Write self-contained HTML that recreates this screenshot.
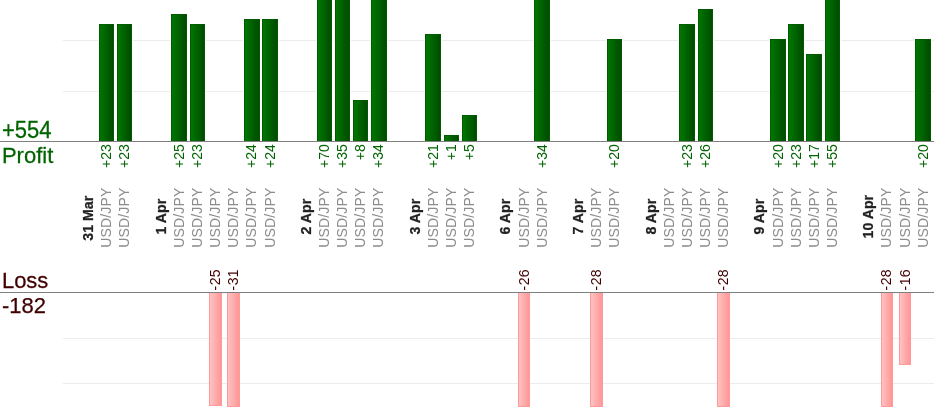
<!DOCTYPE html><html><head><meta charset="utf-8"><title>chart</title><style>html,body{margin:0;padding:0;background:#fff;overflow:hidden}svg{display:block;filter:blur(0.35px)}text{font-family:"Liberation Sans",sans-serif}</style></head><body>
<svg width="934" height="420" viewBox="0 0 934 420">
<defs><linearGradient id="g" x1="0" x2="1" y1="0" y2="0"><stop offset="0" stop-color="#007800"/><stop offset="1" stop-color="#004a00"/></linearGradient><linearGradient id="r" x1="0" x2="1" y1="0" y2="0"><stop offset="0" stop-color="#ffc4c4"/><stop offset="1" stop-color="#ff9494"/></linearGradient></defs>
<rect x="-5" y="-5" width="944" height="430" fill="#fff"/>
<rect x="63" y="40" width="880" height="1" fill="#ececec"/>
<rect x="63" y="91" width="880" height="1" fill="#ececec"/>
<rect x="63" y="338" width="880" height="1" fill="#ececec"/>
<rect x="63" y="383" width="880" height="1" fill="#ececec"/>
<rect x="98" y="23" width="17" height="118" fill="#fff"/>
<rect x="99.5" y="24.5" width="14" height="117" fill="url(#g)" stroke="#005a00" stroke-width="1"/>
<rect x="116" y="23" width="17" height="118" fill="#fff"/>
<rect x="117.5" y="24.5" width="14" height="117" fill="url(#g)" stroke="#005a00" stroke-width="1"/>
<rect x="170" y="13" width="18" height="128" fill="#fff"/>
<rect x="171.5" y="14.5" width="15" height="127" fill="url(#g)" stroke="#005a00" stroke-width="1"/>
<rect x="189" y="23" width="17" height="118" fill="#fff"/>
<rect x="190.5" y="24.5" width="14" height="117" fill="url(#g)" stroke="#005a00" stroke-width="1"/>
<rect x="209.5" y="292.5" width="12" height="113" fill="url(#r)" stroke="#ff9a9a" stroke-width="1"/>
<rect x="227.5" y="292.5" width="12" height="114" fill="url(#r)" stroke="#ff9a9a" stroke-width="1"/>
<rect x="243" y="18" width="18" height="123" fill="#fff"/>
<rect x="244.5" y="19.5" width="15" height="122" fill="url(#g)" stroke="#005a00" stroke-width="1"/>
<rect x="261" y="18" width="18" height="123" fill="#fff"/>
<rect x="262.5" y="19.5" width="15" height="122" fill="url(#g)" stroke="#005a00" stroke-width="1"/>
<rect x="316" y="-214" width="17" height="355" fill="#fff"/>
<rect x="317.5" y="-212.5" width="14" height="354" fill="url(#g)" stroke="#005a00" stroke-width="1"/>
<rect x="334" y="-38" width="17" height="179" fill="#fff"/>
<rect x="335.5" y="-36.5" width="14" height="178" fill="url(#g)" stroke="#005a00" stroke-width="1"/>
<rect x="352" y="99" width="17" height="42" fill="#fff"/>
<rect x="353.5" y="100.5" width="14" height="41" fill="url(#g)" stroke="#005a00" stroke-width="1"/>
<rect x="370" y="-33" width="18" height="174" fill="#fff"/>
<rect x="371.5" y="-31.5" width="15" height="173" fill="url(#g)" stroke="#005a00" stroke-width="1"/>
<rect x="424" y="33" width="18" height="108" fill="#fff"/>
<rect x="425.5" y="34.5" width="15" height="107" fill="url(#g)" stroke="#005a00" stroke-width="1"/>
<rect x="443" y="134" width="17" height="7" fill="#fff"/>
<rect x="444.5" y="135.5" width="14" height="6" fill="url(#g)" stroke="#005a00" stroke-width="1"/>
<rect x="461" y="114" width="17" height="27" fill="#fff"/>
<rect x="462.5" y="115.5" width="14" height="26" fill="url(#g)" stroke="#005a00" stroke-width="1"/>
<rect x="518.5" y="292.5" width="11" height="114" fill="url(#r)" stroke="#ff9a9a" stroke-width="1"/>
<rect x="533" y="-33" width="18" height="174" fill="#fff"/>
<rect x="534.5" y="-31.5" width="15" height="173" fill="url(#g)" stroke="#005a00" stroke-width="1"/>
<rect x="590.5" y="292.5" width="12" height="114" fill="url(#r)" stroke="#ff9a9a" stroke-width="1"/>
<rect x="606" y="38" width="17" height="103" fill="#fff"/>
<rect x="607.5" y="39.5" width="14" height="102" fill="url(#g)" stroke="#005a00" stroke-width="1"/>
<rect x="678" y="23" width="18" height="118" fill="#fff"/>
<rect x="679.5" y="24.5" width="15" height="117" fill="url(#g)" stroke="#005a00" stroke-width="1"/>
<rect x="697" y="8" width="17" height="133" fill="#fff"/>
<rect x="698.5" y="9.5" width="14" height="132" fill="url(#g)" stroke="#005a00" stroke-width="1"/>
<rect x="717.5" y="292.5" width="12" height="114" fill="url(#r)" stroke="#ff9a9a" stroke-width="1"/>
<rect x="769" y="38" width="18" height="103" fill="#fff"/>
<rect x="770.5" y="39.5" width="15" height="102" fill="url(#g)" stroke="#005a00" stroke-width="1"/>
<rect x="787" y="23" width="18" height="118" fill="#fff"/>
<rect x="788.5" y="24.5" width="15" height="117" fill="url(#g)" stroke="#005a00" stroke-width="1"/>
<rect x="805" y="53" width="18" height="88" fill="#fff"/>
<rect x="806.5" y="54.5" width="15" height="87" fill="url(#g)" stroke="#005a00" stroke-width="1"/>
<rect x="824" y="-139" width="17" height="280" fill="#fff"/>
<rect x="825.5" y="-137.5" width="14" height="279" fill="url(#g)" stroke="#005a00" stroke-width="1"/>
<rect x="881.5" y="292.5" width="11" height="114" fill="url(#r)" stroke="#ff9a9a" stroke-width="1"/>
<rect x="899.5" y="292.5" width="11" height="72" fill="url(#r)" stroke="#ff9a9a" stroke-width="1"/>
<rect x="914" y="38" width="18" height="103" fill="#fff"/>
<rect x="915.5" y="39.5" width="15" height="102" fill="url(#g)" stroke="#005a00" stroke-width="1"/>
<rect x="-5" y="141" width="944" height="1" fill="#808080"/>
<rect x="-5" y="292" width="944" height="1" fill="#808080"/>
<text transform="translate(1.9,138) scale(1,1.05)" font-size="22" fill="#006400" stroke="#006400" stroke-width="0.25">+554</text>
<text transform="translate(1.9,163) scale(1,1.03)" font-size="22" fill="#006400" stroke="#006400" stroke-width="0.25">Profit</text>
<text transform="translate(1.9,287.7) scale(1,1.03)" font-size="22" fill="#400000" stroke="#400000" stroke-width="0.25">Loss</text>
<text transform="translate(1.9,313.4) scale(1,1.0)" font-size="22" fill="#400000" stroke="#400000" stroke-width="0.25">-182</text>
<text stroke="#222" stroke-width="0.25" transform="translate(93.30,218.20) rotate(-90)" font-size="14.2" fill="#222" text-anchor="middle" font-weight="bold">31 Mar</text>
<text letter-spacing="0.15" transform="translate(111.00,217.70) rotate(-90)" font-size="14" fill="#8c8c8c" text-anchor="middle">USD/JPY</text>
<text transform="translate(111.00,144.20) rotate(-90)" font-size="14" fill="#006400" text-anchor="end">+23</text>
<text letter-spacing="0.15" transform="translate(129.00,217.70) rotate(-90)" font-size="14" fill="#8c8c8c" text-anchor="middle">USD/JPY</text>
<text transform="translate(129.00,144.20) rotate(-90)" font-size="14" fill="#006400" text-anchor="end">+23</text>
<text stroke="#222" stroke-width="0.25" transform="translate(166.30,216.70) rotate(-90)" font-size="14.2" fill="#222" text-anchor="middle" font-weight="bold">1 Apr</text>
<text letter-spacing="0.15" transform="translate(184.00,217.70) rotate(-90)" font-size="14" fill="#8c8c8c" text-anchor="middle">USD/JPY</text>
<text transform="translate(184.00,144.20) rotate(-90)" font-size="14" fill="#006400" text-anchor="end">+25</text>
<text letter-spacing="0.15" transform="translate(202.00,217.70) rotate(-90)" font-size="14" fill="#8c8c8c" text-anchor="middle">USD/JPY</text>
<text transform="translate(202.00,144.20) rotate(-90)" font-size="14" fill="#006400" text-anchor="end">+23</text>
<text letter-spacing="0.15" transform="translate(220.00,217.70) rotate(-90)" font-size="14" fill="#8c8c8c" text-anchor="middle">USD/JPY</text>
<text letter-spacing="0.4" transform="translate(220.20,290.40) rotate(-90)" font-size="14" fill="#400000" text-anchor="start">-25</text>
<text letter-spacing="0.15" transform="translate(238.00,217.70) rotate(-90)" font-size="14" fill="#8c8c8c" text-anchor="middle">USD/JPY</text>
<text letter-spacing="0.4" transform="translate(238.20,290.40) rotate(-90)" font-size="14" fill="#400000" text-anchor="start">-31</text>
<text letter-spacing="0.15" transform="translate(256.00,217.70) rotate(-90)" font-size="14" fill="#8c8c8c" text-anchor="middle">USD/JPY</text>
<text transform="translate(256.00,144.20) rotate(-90)" font-size="14" fill="#006400" text-anchor="end">+24</text>
<text letter-spacing="0.15" transform="translate(275.00,217.70) rotate(-90)" font-size="14" fill="#8c8c8c" text-anchor="middle">USD/JPY</text>
<text transform="translate(275.00,144.20) rotate(-90)" font-size="14" fill="#006400" text-anchor="end">+24</text>
<text stroke="#222" stroke-width="0.25" transform="translate(311.30,216.70) rotate(-90)" font-size="14.2" fill="#222" text-anchor="middle" font-weight="bold">2 Apr</text>
<text letter-spacing="0.15" transform="translate(329.00,217.70) rotate(-90)" font-size="14" fill="#8c8c8c" text-anchor="middle">USD/JPY</text>
<text transform="translate(329.00,144.20) rotate(-90)" font-size="14" fill="#006400" text-anchor="end">+70</text>
<text letter-spacing="0.15" transform="translate(347.00,217.70) rotate(-90)" font-size="14" fill="#8c8c8c" text-anchor="middle">USD/JPY</text>
<text transform="translate(347.00,144.20) rotate(-90)" font-size="14" fill="#006400" text-anchor="end">+35</text>
<text letter-spacing="0.15" transform="translate(365.00,217.70) rotate(-90)" font-size="14" fill="#8c8c8c" text-anchor="middle">USD/JPY</text>
<text transform="translate(365.00,144.20) rotate(-90)" font-size="14" fill="#006400" text-anchor="end">+8</text>
<text letter-spacing="0.15" transform="translate(383.00,217.70) rotate(-90)" font-size="14" fill="#8c8c8c" text-anchor="middle">USD/JPY</text>
<text transform="translate(383.00,144.20) rotate(-90)" font-size="14" fill="#006400" text-anchor="end">+34</text>
<text stroke="#222" stroke-width="0.25" transform="translate(420.30,216.70) rotate(-90)" font-size="14.2" fill="#222" text-anchor="middle" font-weight="bold">3 Apr</text>
<text letter-spacing="0.15" transform="translate(438.00,217.70) rotate(-90)" font-size="14" fill="#8c8c8c" text-anchor="middle">USD/JPY</text>
<text transform="translate(438.00,144.20) rotate(-90)" font-size="14" fill="#006400" text-anchor="end">+21</text>
<text letter-spacing="0.15" transform="translate(456.00,217.70) rotate(-90)" font-size="14" fill="#8c8c8c" text-anchor="middle">USD/JPY</text>
<text transform="translate(456.00,144.20) rotate(-90)" font-size="14" fill="#006400" text-anchor="end">+1</text>
<text letter-spacing="0.15" transform="translate(474.00,217.70) rotate(-90)" font-size="14" fill="#8c8c8c" text-anchor="middle">USD/JPY</text>
<text transform="translate(474.00,144.20) rotate(-90)" font-size="14" fill="#006400" text-anchor="end">+5</text>
<text stroke="#222" stroke-width="0.25" transform="translate(510.30,216.70) rotate(-90)" font-size="14.2" fill="#222" text-anchor="middle" font-weight="bold">6 Apr</text>
<text letter-spacing="0.15" transform="translate(529.00,217.70) rotate(-90)" font-size="14" fill="#8c8c8c" text-anchor="middle">USD/JPY</text>
<text letter-spacing="0.4" transform="translate(529.20,290.40) rotate(-90)" font-size="14" fill="#400000" text-anchor="start">-26</text>
<text letter-spacing="0.15" transform="translate(547.00,217.70) rotate(-90)" font-size="14" fill="#8c8c8c" text-anchor="middle">USD/JPY</text>
<text transform="translate(547.00,144.20) rotate(-90)" font-size="14" fill="#006400" text-anchor="end">+34</text>
<text stroke="#222" stroke-width="0.25" transform="translate(583.30,216.70) rotate(-90)" font-size="14.2" fill="#222" text-anchor="middle" font-weight="bold">7 Apr</text>
<text letter-spacing="0.15" transform="translate(601.00,217.70) rotate(-90)" font-size="14" fill="#8c8c8c" text-anchor="middle">USD/JPY</text>
<text letter-spacing="0.4" transform="translate(601.20,290.40) rotate(-90)" font-size="14" fill="#400000" text-anchor="start">-28</text>
<text letter-spacing="0.15" transform="translate(619.00,217.70) rotate(-90)" font-size="14" fill="#8c8c8c" text-anchor="middle">USD/JPY</text>
<text transform="translate(619.00,144.20) rotate(-90)" font-size="14" fill="#006400" text-anchor="end">+20</text>
<text stroke="#222" stroke-width="0.25" transform="translate(656.30,216.70) rotate(-90)" font-size="14.2" fill="#222" text-anchor="middle" font-weight="bold">8 Apr</text>
<text letter-spacing="0.15" transform="translate(674.00,217.70) rotate(-90)" font-size="14" fill="#8c8c8c" text-anchor="middle">USD/JPY</text>
<text letter-spacing="0.15" transform="translate(692.00,217.70) rotate(-90)" font-size="14" fill="#8c8c8c" text-anchor="middle">USD/JPY</text>
<text transform="translate(692.00,144.20) rotate(-90)" font-size="14" fill="#006400" text-anchor="end">+23</text>
<text letter-spacing="0.15" transform="translate(710.00,217.70) rotate(-90)" font-size="14" fill="#8c8c8c" text-anchor="middle">USD/JPY</text>
<text transform="translate(710.00,144.20) rotate(-90)" font-size="14" fill="#006400" text-anchor="end">+26</text>
<text letter-spacing="0.15" transform="translate(728.00,217.70) rotate(-90)" font-size="14" fill="#8c8c8c" text-anchor="middle">USD/JPY</text>
<text letter-spacing="0.4" transform="translate(728.20,290.40) rotate(-90)" font-size="14" fill="#400000" text-anchor="start">-28</text>
<text stroke="#222" stroke-width="0.25" transform="translate(764.30,216.70) rotate(-90)" font-size="14.2" fill="#222" text-anchor="middle" font-weight="bold">9 Apr</text>
<text letter-spacing="0.15" transform="translate(783.00,217.70) rotate(-90)" font-size="14" fill="#8c8c8c" text-anchor="middle">USD/JPY</text>
<text transform="translate(783.00,144.20) rotate(-90)" font-size="14" fill="#006400" text-anchor="end">+20</text>
<text letter-spacing="0.15" transform="translate(801.00,217.70) rotate(-90)" font-size="14" fill="#8c8c8c" text-anchor="middle">USD/JPY</text>
<text transform="translate(801.00,144.20) rotate(-90)" font-size="14" fill="#006400" text-anchor="end">+23</text>
<text letter-spacing="0.15" transform="translate(819.00,217.70) rotate(-90)" font-size="14" fill="#8c8c8c" text-anchor="middle">USD/JPY</text>
<text transform="translate(819.00,144.20) rotate(-90)" font-size="14" fill="#006400" text-anchor="end">+17</text>
<text letter-spacing="0.15" transform="translate(837.00,217.70) rotate(-90)" font-size="14" fill="#8c8c8c" text-anchor="middle">USD/JPY</text>
<text transform="translate(837.00,144.20) rotate(-90)" font-size="14" fill="#006400" text-anchor="end">+55</text>
<text stroke="#222" stroke-width="0.25" transform="translate(873.30,216.70) rotate(-90)" font-size="14.2" fill="#222" text-anchor="middle" font-weight="bold">10 Apr</text>
<text letter-spacing="0.15" transform="translate(891.00,217.70) rotate(-90)" font-size="14" fill="#8c8c8c" text-anchor="middle">USD/JPY</text>
<text letter-spacing="0.4" transform="translate(891.20,290.40) rotate(-90)" font-size="14" fill="#400000" text-anchor="start">-28</text>
<text letter-spacing="0.15" transform="translate(910.00,217.70) rotate(-90)" font-size="14" fill="#8c8c8c" text-anchor="middle">USD/JPY</text>
<text letter-spacing="0.4" transform="translate(910.20,290.40) rotate(-90)" font-size="14" fill="#400000" text-anchor="start">-16</text>
<text letter-spacing="0.15" transform="translate(928.00,217.70) rotate(-90)" font-size="14" fill="#8c8c8c" text-anchor="middle">USD/JPY</text>
<text transform="translate(928.00,144.20) rotate(-90)" font-size="14" fill="#006400" text-anchor="end">+20</text>
</svg></body></html>
